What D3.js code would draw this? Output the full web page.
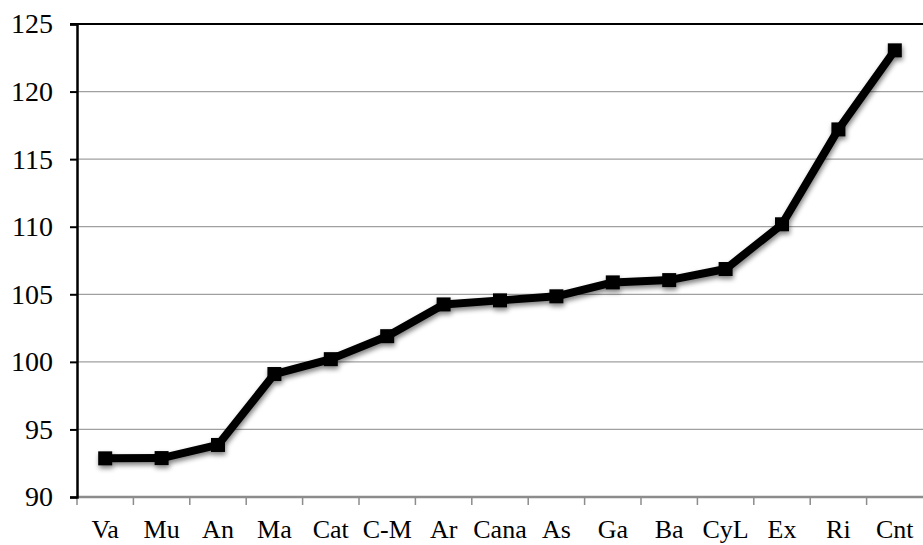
<!DOCTYPE html>
<html>
<head>
<meta charset="utf-8">
<script src="https://cdn.jsdelivr.net/npm/d3@7/dist/d3.min.js"></script>
<style>
  html, body { margin: 0; padding: 0; background: #fff; }
  svg { display: block; }
  text { font-family: "Liberation Serif", "DejaVu Serif", serif; fill: #000; }
</style>
</head>
<body>
<svg id="chart" width="923" height="545"></svg>
<script>
// Regions, ordered from lowest to highest index value
const categories = ["Va", "Mu", "An", "Ma", "Cat", "C-M", "Ar", "Cana", "As", "Ga", "Ba", "CyL", "Ex", "Ri", "Cnt"];
const values = [92.86, 92.88, 93.85, 99.1, 100.2, 101.9, 104.25, 104.55, 104.85, 105.88, 106.05, 106.87, 110.18, 117.2, 123.05];
const yTicks = [90, 95, 100, 105, 110, 115, 120, 125];

const W = 923, H = 545;
const margin = { top: 24, right: 0, bottom: 48, left: 77 };
const svg = d3.select("#chart");

const x = d3.scaleBand().domain(categories).range([margin.left, W - margin.right]);
const y = d3.scaleLinear().domain([90, 125]).range([H - margin.bottom, margin.top]);

// Soft shadow under the line and markers
const defs = svg.append("defs");
const f = defs.append("filter").attr("id", "shadow")
  .attr("x", "-10%").attr("y", "-10%").attr("width", "120%").attr("height", "130%");
f.append("feGaussianBlur").attr("in", "SourceAlpha").attr("stdDeviation", 2.4).attr("result", "b");
f.append("feOffset").attr("in", "b").attr("dx", 1).attr("dy", 3).attr("result", "o");
f.append("feComponentTransfer").attr("in", "o").attr("result", "s")
  .append("feFuncA").attr("type", "linear").attr("slope", 0.5);
const m = f.append("feMerge");
m.append("feMergeNode").attr("in", "s");
m.append("feMergeNode").attr("in", "SourceGraphic");

// Horizontal gridlines
svg.append("g")
  .selectAll("line")
  .data(yTicks.filter(t => t > 90 && t < 125))
  .join("line")
  .attr("x1", margin.left).attr("x2", W)
  .attr("y1", d => y(d)).attr("y2", d => y(d))
  .attr("stroke", "#a0a0a0").attr("stroke-width", 1.3);

// Top frame line
svg.append("line")
  .attr("x1", margin.left - 7).attr("x2", W)
  .attr("y1", y(125)).attr("y2", y(125))
  .attr("stroke", "#000").attr("stroke-width", 2);

// X axis (gray) with ticks at category boundaries
const xAxisY = y(90);
const xg = svg.append("g");
xg.append("line")
  .attr("x1", margin.left).attr("x2", W)
  .attr("y1", xAxisY).attr("y2", xAxisY)
  .attr("stroke", "#8c8c8c").attr("stroke-width", 2.5);
xg.selectAll("line.tick")
  .data(categories)
  .join("line").attr("class", "tick")
  .attr("x1", d => x(d)).attr("x2", d => x(d))
  .attr("y1", xAxisY).attr("y2", xAxisY + 8)
  .attr("stroke", "#8c8c8c").attr("stroke-width", 1.5);
xg.selectAll("text")
  .data(categories)
  .join("text")
  .attr("x", d => x(d) + x.bandwidth() / 2)
  .attr("y", 538)
  .attr("text-anchor", "middle")
  .attr("font-size", 26)
  .text(d => d);

// Y axis (black)
const yAxis = d3.axisLeft(y).tickValues(yTicks).tickSize(7).tickPadding(17).tickFormat(d3.format("d"));
const yg = svg.append("g").attr("transform", `translate(${margin.left},0)`).call(yAxis);
yg.select(".domain").attr("stroke", "#000").attr("stroke-width", 2.5);
yg.selectAll(".tick line").attr("stroke", "#000").attr("stroke-width", 2);
yg.selectAll(".tick text")
  .attr("font-size", 28)
  .attr("font-family", "Liberation Serif, DejaVu Serif, serif")
  .attr("fill", "#000");

// Data line with square markers
const pts = categories.map((c, i) => [x(c) + x.bandwidth() / 2, y(values[i])]);
const series = svg.append("g").attr("filter", "url(#shadow)");
series.append("path")
  .attr("d", d3.line()(pts))
  .attr("fill", "none")
  .attr("stroke", "#000")
  .attr("stroke-width", 8)
  .attr("stroke-linejoin", "round");
series.selectAll("rect")
  .data(pts)
  .join("rect")
  .attr("x", d => d[0] - 7).attr("y", d => d[1] - 7)
  .attr("width", 14).attr("height", 14)
  .attr("fill", "#000");
</script>
</body>
</html>
